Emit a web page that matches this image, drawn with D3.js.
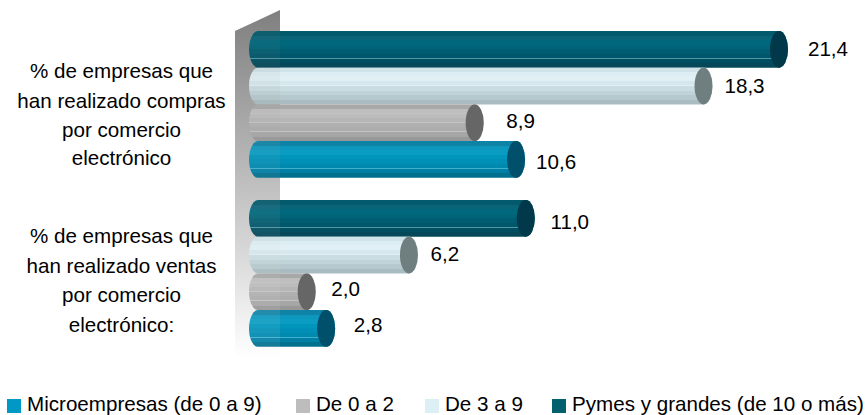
<!DOCTYPE html>
<html><head><meta charset="utf-8">
<script src="https://cdn.jsdelivr.net/npm/d3@7"></script>
<style>html,body{margin:0;padding:0;background:#fff}svg{display:block}text{font-family:"Liberation Sans",Arial,sans-serif;fill:#000}</style>
</head><body><div id="c"></div>
<script>
const categories = ["% de empresas que han realizado compras por comercio electrónico","% de empresas que han realizado ventas por comercio electrónico:"];
const categoryLines = [["% de empresas que","han realizado compras","por comercio","electrónico"],["% de empresas que","han realizado ventas","por comercio","electrónico:"]];
const seriesNames = ["Pymes y grandes (de 10 o más)","De 3 a 9","De 0 a 2","Microempresas (de 0 a 9)"];
const pymes = [21.4, 11.0];
const de3a9 = [18.3, 6.2];
const de0a2 = [8.9, 2.0];
const micro = [10.6, 2.8];
const legendOrder = [3,2,1,0];

const W=868,H=415,FS=20.6;
const svg=d3.select("#c").append("svg").attr("width",W).attr("height",H);
const defs=svg.append("defs");
const x=d3.scaleLinear().domain([0,21.4]).range([258,779]);
const groupTop=[31,200], barH=36.7;
const fmt=v=>d3.format(".1f")(v).replace(".",",");
const rx=9;
const styles=[
 {cap:"#01394a",sw:"#03606f",hl:"#4f97a5",stops:["#035a6c","#0a6478","#00687c","#006578","#005c70","#00566a","#004e60","#04485a"]},
 {cap:"#6f7f80",sw:"#dbeff4",hl:"#e0f0f5",stops:["#cfe3e9","#dceef3","#e0f0f5","#d6e8ed","#cadde2","#c0d3d8","#b6c9ce","#aabcc1"]},
 {cap:"#666666",sw:"#bdbdbd",hl:"#c4c4c4",stops:["#a8a8a8","#bebebe","#bcbcbc","#b6b6b6","#b0b0b0","#acacac","#a6a6a6","#989898"]},
 {cap:"#00506b",sw:"#0098c4",hl:"#3fb0ce",stops:["#0f83a6","#0e97bd","#0a9cc2","#0095bb","#008fb6","#0089af","#007fa5","#00708f"]}
];
styles.forEach((s,i)=>{
 const g=defs.append("linearGradient").attr("id","g"+i).attr("x1",0).attr("x2",0).attr("y1",0).attr("y2",1);
 const n=s.stops.length;
 s.stops.forEach((c,k)=>{
  const hlBand=(k===1||k===3||k===5);
  g.append("stop").attr("offset",k/n).attr("stop-color",c);
  g.append("stop").attr("offset",(k+1)/n-0.016).attr("stop-color",c);
  const e=hlBand?s.hl:c;
  g.append("stop").attr("offset",(k+1)/n-0.016).attr("stop-color",e);
  g.append("stop").attr("offset",(k+1)/n).attr("stop-color",e);
 });
});
const wg=defs.append("linearGradient").attr("id","wall").attr("gradientUnits","userSpaceOnUse").attr("x1",0).attr("x2",0).attr("y1",10).attr("y2",358);
wg.append("stop").attr("offset",0).attr("stop-color","#7f7f7f");
wg.append("stop").attr("offset",1).attr("stop-color","#ffffff");
const wallL=235,wallR=280,wallT=10,wallB=358,slant=21;
const wallPath=`M${wallL},${wallT+slant}L${wallR},${wallT}L${wallR},${wallB}L${wallL},${wallB}Z`;
svg.append("path").attr("d",wallPath).attr("fill","url(#wall)");

const rows=[pymes,de3a9,de0a2,micro];
const nudge=[[49,41,46,40],[44,36,39,42]];
const labelDy=[[49,86,121,162],[222,254,289,325]];
const base=x(0);
const barLayer=svg.append("g");
categories.forEach((cat,c)=>{
 rows.forEach((r,i)=>{
  const v=r[c],t=groupTop[c]+i*barH,b=t+barH,m=(t+b)/2,e=x(v),ry=barH/2;
  barLayer.append("path").attr("d",`M${base},${t}L${e},${t}A${rx},${ry} 0 0 1 ${e},${b}L${base},${b}A${rx},${ry} 0 0 1 ${base},${t}Z`).attr("fill",`url(#g${i})`);
  barLayer.append("ellipse").attr("cx",e).attr("cy",m).attr("rx",rx).attr("ry",ry).attr("fill",styles[i].cap);
  svg.append("text").attr("x",e+nudge[c][i]).attr("y",labelDy[c][i]).attr("dy","0.36em").attr("text-anchor","middle").attr("font-size",FS).text(fmt(v));
 });
});
svg.append("path").attr("d",wallPath).attr("fill","url(#wall)").attr("opacity",0.08);
const lineY=[[71,100.5,129.5,158],[236,265.5,295,325]];
categoryLines.forEach((ls,c)=>ls.forEach((l,k)=>{
 svg.append("text").attr("x",121.5).attr("y",lineY[c][k]).attr("dy","0.36em").attr("text-anchor","middle").attr("font-size",FS).text(l);
}));
const legX=[7,296,425,552];
legendOrder.forEach((si,k)=>{
 svg.append("rect").attr("x",legX[k]).attr("y",399).attr("width",14).attr("height",14).attr("fill",styles[si].sw);
 svg.append("text").attr("x",legX[k]+20).attr("y",410.5).attr("font-size",FS).text(seriesNames[si]);
});
</script></body></html>
